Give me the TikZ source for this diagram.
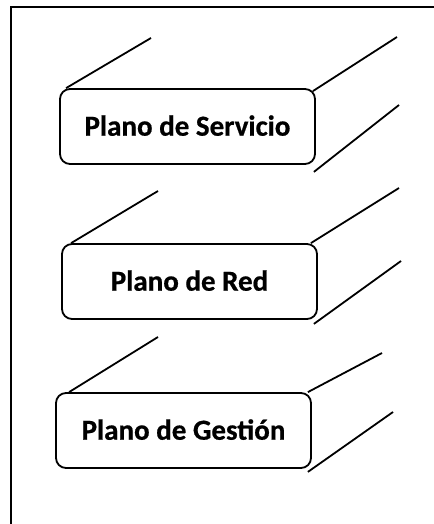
\documentclass[tikz,border=0pt]{standalone}
\usepackage{fontspec}
\setmainfont{Carlito}[BoldFeatures={FakeBold=0.6}]
\begin{document}
\begin{tikzpicture}[x=1bp,y=-1bp,
  plane/.style={draw=black, line width=1.8bp, rounded corners=10bp, fill=white,
    minimum width=255bp, minimum height=75bp, inner sep=0pt,
    font=\fontsize{29bp}{34bp}\selectfont\bfseries},
  edge/.style={draw=black, line width=1.8bp},
  frame/.style={draw=black, line width=2.2bp}]
\useasboundingbox (0,0) rectangle (434,524);
\coordinate (ftr) at (434,7);
\coordinate (ftl) at (11,7);
\coordinate (fbl) at (11,524);
\draw[frame] (ftr) -- (ftl) -- (fbl);

\node[plane] (b1) at (187.5,126.5) {\raisebox{2bp}{Plano de Servicio}};
\node[plane] (b2) at (189.5,281.5) {\raisebox{2bp}{Plano de Red}};
\node[plane] (b3) at (183.5,430.5) {\raisebox{2bp}{Plano de Gestión}};

\coordinate (e1a) at (151,38);
\coordinate (e1b) at (397,37);
\coordinate (e1c) at (399,105);
\coordinate (e2a) at (158,191);
\coordinate (e2b) at (399,188);
\coordinate (e2c) at (401,261);
\coordinate (e3a) at (158,337);
\coordinate (e3b) at (382,353);
\coordinate (e3c) at (393,412);

\draw[edge] ([xshift=7bp]b1.north west) -- (e1a);
\draw[edge] ([xshift=-3bp,yshift=-3bp]b1.north east) -- (e1b);
\draw[edge] ([xshift=-2bp,yshift=-7bp]b1.south east) -- (e1c);

\draw[edge] ([xshift=10bp]b2.north west) -- (e2a);
\draw[edge] ([xshift=-7bp]b2.north east) -- (e2b);
\draw[edge] ([xshift=-4bp,yshift=-4bp]b2.south east) -- (e2c);

\draw[edge] ([xshift=14bp]b3.north west) -- (e3a);
\draw[edge] ([xshift=-4bp]b3.north east) -- (e3b);
\draw[edge] ([xshift=-4bp,yshift=-3bp]b3.south east) -- (e3c);
\end{tikzpicture}
\end{document}
